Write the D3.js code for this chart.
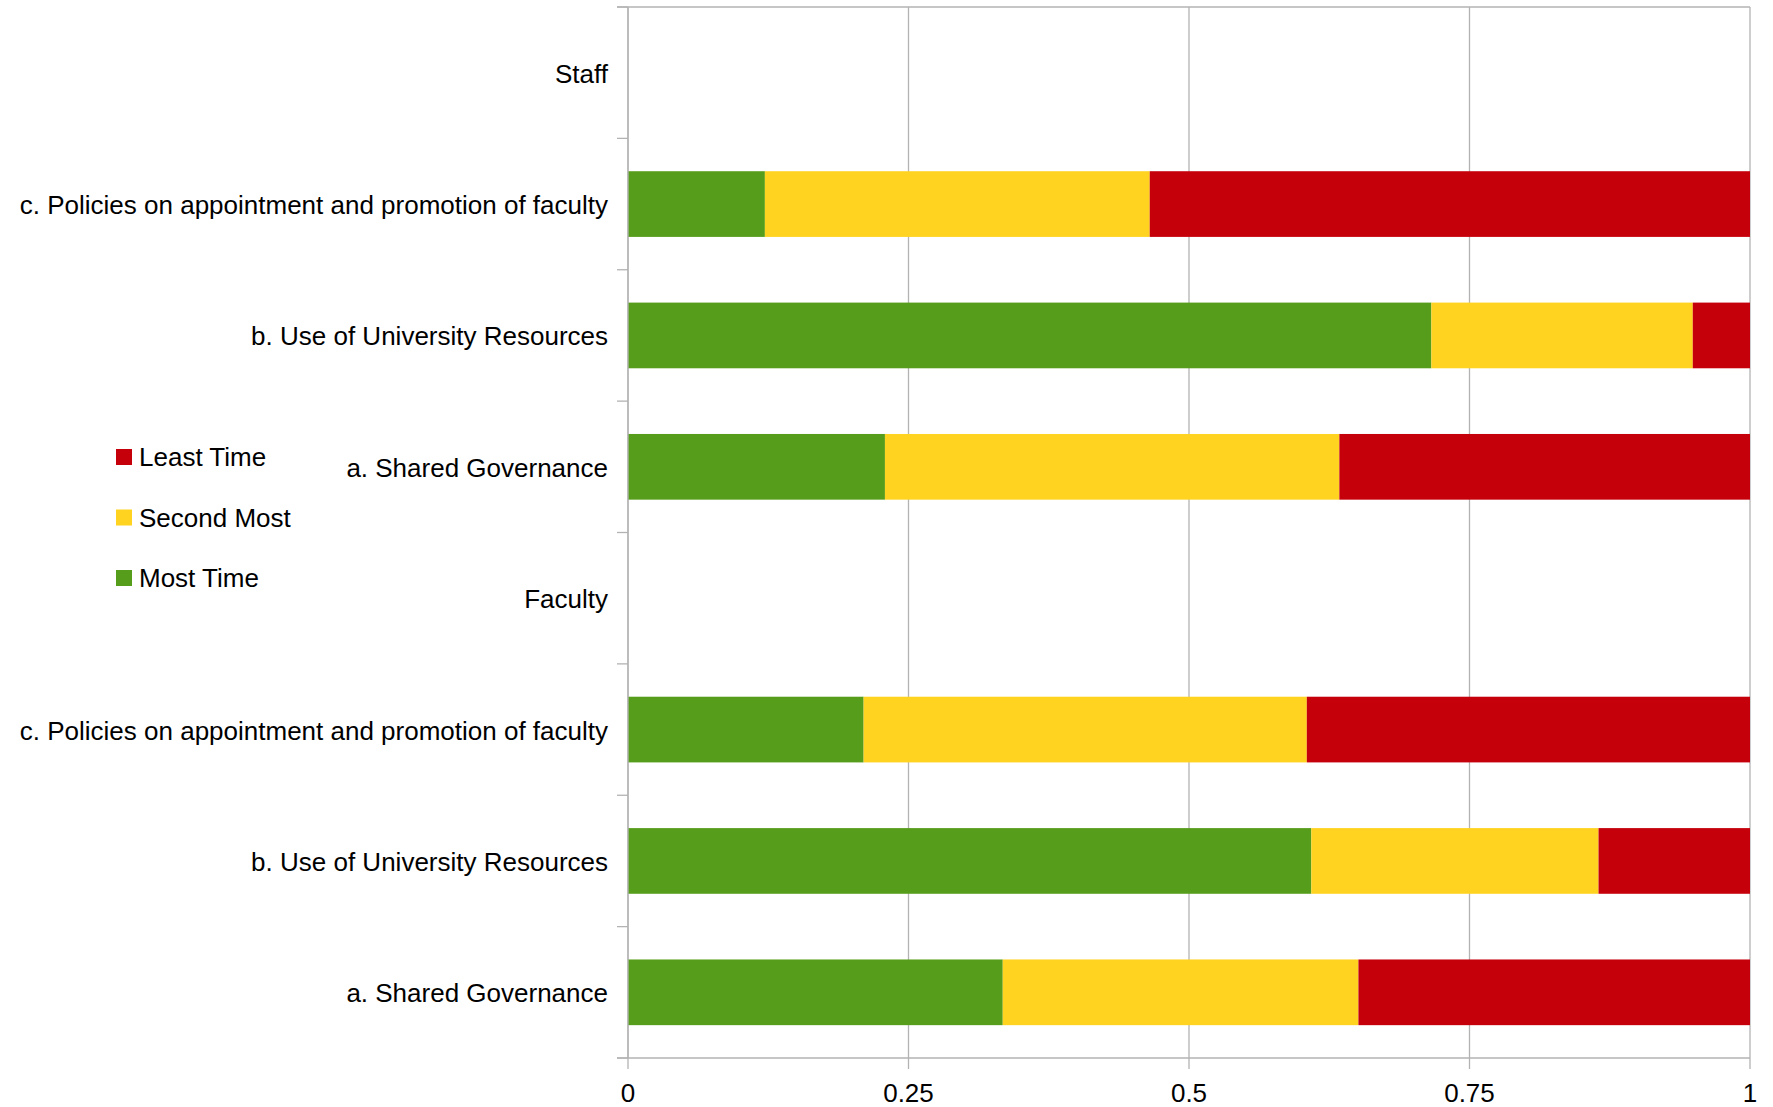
<!DOCTYPE html>
<html><head><meta charset="utf-8">
<script src="https://cdn.jsdelivr.net/npm/d3@7"></script>
<style>
html,body{margin:0;padding:0;background:#fff;}
text{font-family:"Liberation Sans",Arial,sans-serif;fill:#000;}
</style></head>
<body>
<svg id="chart" width="1773" height="1107"></svg>
<script>
// Categories listed from bottom to top
const categories = [
  "a. Shared Governance",
  "b. Use of University Resources",
  "c. Policies on appointment and promotion of faculty",
  "Faculty",
  "a. Shared Governance",
  "b. Use of University Resources",
  "c. Policies on appointment and promotion of faculty",
  "Staff"
];
const seriesNames = ["Most Time", "Second Most", "Least Time"];
const mostTime   = [0.334, 0.609, 0.210, null, 0.229, 0.716, 0.122, null];
const secondMost = [0.317, 0.256, 0.395, null, 0.405, 0.233, 0.343, null];
const leastTime  = [0.349, 0.135, 0.395, null, 0.366, 0.051, 0.535, null];
const colors = ["#579d1c", "#ffd320", "#c5000b"];
const xTicks = [0, 0.25, 0.5, 0.75, 1];
const xTickLabels = ["0", "0.25", "0.5", "0.75", "1"];

(function () {
const svg = d3.select("#chart");
const pLeft = 628, pRight = 1750, pTop = 7, pBottom = 1058;

const x = d3.scaleLinear().domain([0, 1]).range([pLeft, pRight]);
const idx = categories.map((d, i) => i);
const y = d3.scaleBand().domain(idx.slice().reverse()).range([pTop, pBottom]).paddingInner(0.5).paddingOuter(0.25);
const yOuter = d3.scaleBand().domain(idx.slice().reverse()).range([pTop, pBottom]);

const grid = "#b3b3b3";

// vertical gridlines
svg.append("g").selectAll("line").data(xTicks).join("line")
  .attr("x1", d => x(d)).attr("x2", d => x(d))
  .attr("y1", pTop).attr("y2", pBottom)
  .attr("stroke", grid).attr("stroke-width", 1.3);

// top line
svg.append("line").attr("x1", pLeft - 11).attr("x2", pRight).attr("y1", pTop).attr("y2", pTop)
  .attr("stroke", grid).attr("stroke-width", 1.3);

// stacked bars
const rows = categories.map((c, i) => ({i, vals: [mostTime[i], secondMost[i], leastTime[i]]}));
const barsG = svg.append("g");
rows.forEach(r => {
  if (r.vals[0] == null) return;
  let acc = 0;
  r.vals.forEach((v, k) => {
    barsG.append("rect")
      .attr("x", x(acc)).attr("width", x(acc + v) - x(acc))
      .attr("y", y(r.i)).attr("height", y.bandwidth())
      .attr("fill", colors[k]);
    acc += v;
  });
});

// y axis line and ticks at band boundaries
svg.append("line").attr("x1", pLeft).attr("x2", pLeft).attr("y1", pTop).attr("y2", pBottom)
  .attr("stroke", grid).attr("stroke-width", 1.3);
const bounds = idx.map(i => yOuter(i));
bounds.push(pBottom);
svg.append("g").selectAll("line").data(bounds).join("line")
  .attr("x1", pLeft - 11).attr("x2", pLeft).attr("y1", d => d).attr("y2", d => d)
  .attr("stroke", grid).attr("stroke-width", 1.3);

// category labels
svg.append("g").selectAll("text").data(idx).join("text")
  .attr("x", 608).attr("y", i => yOuter(i) + yOuter.bandwidth() / 2 + 1)
  .attr("text-anchor", "end").attr("dominant-baseline", "central")
  .attr("font-size", 26).text(i => categories[i]);

// x axis
svg.append("line").attr("x1", pLeft - 11).attr("x2", pRight).attr("y1", pBottom).attr("y2", pBottom)
  .attr("stroke", grid).attr("stroke-width", 1.3);
svg.append("g").selectAll("line").data(xTicks).join("line")
  .attr("x1", d => x(d)).attr("x2", d => x(d)).attr("y1", pBottom).attr("y2", pBottom + 11)
  .attr("stroke", grid).attr("stroke-width", 1.3);
svg.append("g").selectAll("text").data(xTicks).join("text")
  .attr("x", d => x(d)).attr("y", 1093)
  .attr("text-anchor", "middle").attr("dominant-baseline", "central")
  .attr("font-size", 26).text((d, i) => xTickLabels[i]);

// legend (reverse order: Least Time on top)
const legendOrder = [2, 1, 0];
const lg = svg.append("g");
legendOrder.forEach((k, j) => {
  const yy = 449 + j * 60.5;
  lg.append("rect").attr("x", 116).attr("y", yy).attr("width", 16).attr("height", 16).attr("fill", colors[k]);
  lg.append("text").attr("x", 139).attr("y", yy + 8).attr("dominant-baseline", "central")
    .attr("font-size", 26).text(seriesNames[k]);
});
})();
</script>
</body></html>
